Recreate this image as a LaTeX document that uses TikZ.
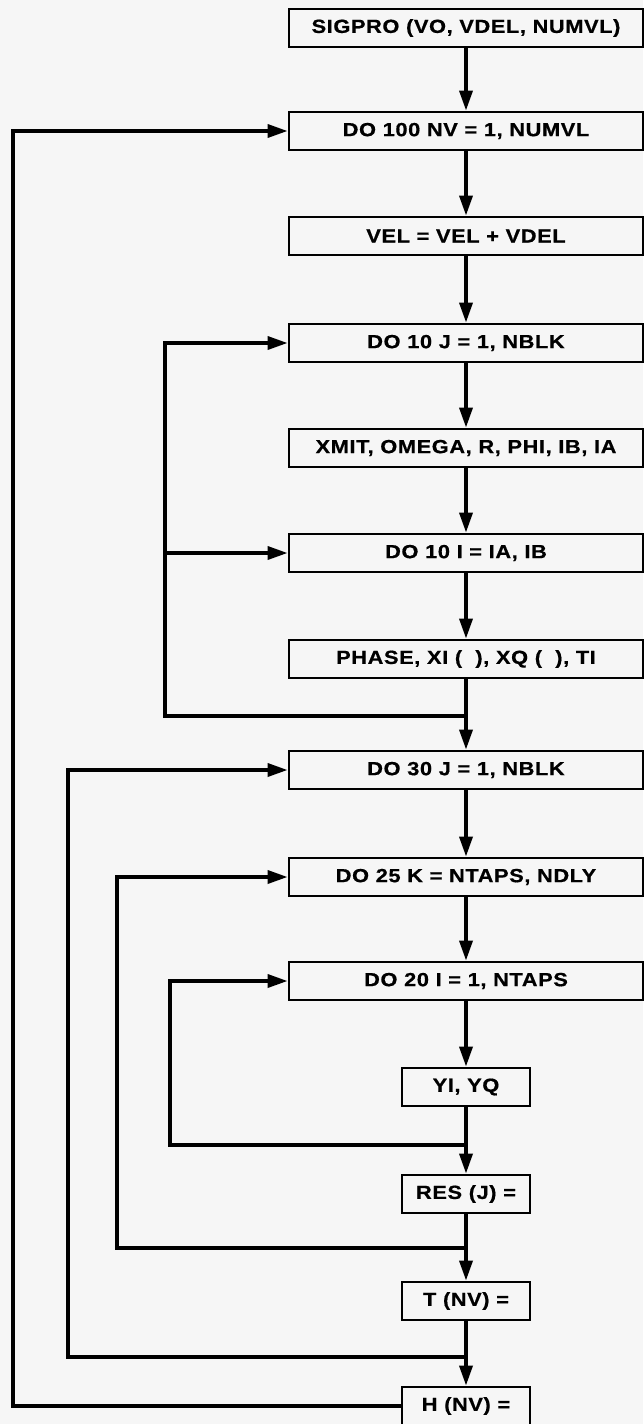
\documentclass[tikz,border=0pt]{standalone}
\usepackage{fontspec}
\usetikzlibrary{arrows.meta}
\newfontfamily\boxfont{Liberation Sans}[FakeStretch=1.15,LetterSpace=3,FakeBold=0.6]
\definecolor{paper}{RGB}{246,246,246}
\tikzset{
  box/.style={draw, line width=2.8pt, minimum height=38pt, inner sep=0pt,
    fill=paper, font=\boxfont\bfseries\fontsize{19}{22}\selectfont},
  wide/.style={box, minimum width=354pt},
  narrow/.style={box, minimum width=128pt},
  flow/.style={line width=3.5pt, -{Triangle[length=20pt,width=13pt]}},
  link/.style={line width=3.5pt},
}
\begin{document}
\begin{tikzpicture}[x=1pt,y=-1pt]
\useasboundingbox (0,0) rectangle (643,1424);
\fill[paper] (0,0) rectangle (643,1424);
% boxes
\node[wide] (sigpro) at (466,28) {SIGPRO (VO, VDEL, NUMVL)};
\node[wide] (do100) at (466,131) {DO 100 NV = 1, NUMVL};
\node[wide] (vel) at (466,236) {VEL = VEL + VDEL};
\node[wide] (do10j) at (466,343) {DO 10 J = 1, NBLK};
\node[wide] (xmit) at (466,448) {XMIT, OMEGA, R, PHI, IB, IA};
\node[wide] (do10i) at (466,553) {DO 10 I = IA, IB};
\node[wide] (phase) at (466,659) {PHASE, XI (~~), XQ (~~), TI};
\node[wide] (do30j) at (466,770) {DO 30 J = 1, NBLK};
\node[wide] (do25k) at (466,877) {DO 25 K = NTAPS, NDLY};
\node[wide] (do20i) at (466,981) {DO 20 I = 1, NTAPS};
\node[narrow] (yiyq) at (466,1087) {YI, YQ};
\node[narrow] (res) at (466,1194) {RES (J) =};
\node[narrow] (tnv) at (466,1301) {T (NV) =};
\node[narrow] (hnv) at (466,1406) {H (NV) =};
% main flow
\draw[flow] (sigpro) -- (do100);
\draw[flow] (do100) -- (vel);
\draw[flow] (vel) -- (do10j);
\draw[flow] (do10j) -- (xmit);
\draw[flow] (xmit) -- (do10i);
\draw[flow] (do10i) -- (phase);
\draw[flow] (phase) -- (do30j);
\draw[flow] (do30j) -- (do25k);
\draw[flow] (do25k) -- (do20i);
\draw[flow] (do20i) -- (yiyq);
\draw[flow] (yiyq) -- (res);
\draw[flow] (res) -- (tnv);
\draw[flow] (tnv) -- (hnv);
% junctions and corners
\coordinate (j10) at (466,716);
\coordinate (c10) at (165,716);
\coordinate (b10) at (165,553);
\coordinate (j20) at (466,1145);
\coordinate (c20) at (170,1145);
\coordinate (j25) at (466,1248);
\coordinate (c25) at (117,1248);
\coordinate (j30) at (466,1357);
\coordinate (c30) at (68,1357);
\coordinate (c100) at (13,1406);
% loops
\draw[flow] (j10) -- (c10) |- (do10j.west);
\draw[flow] (b10) -- (do10i.west);
\draw[flow] (j20) -- (c20) |- (do20i.west);
\draw[flow] (j25) -- (c25) |- (do25k.west);
\draw[flow] (j30) -- (c30) |- (do30j.west);
\draw[flow] (hnv.west) -- (c100) |- (do100.west);
\end{tikzpicture}
\end{document}
